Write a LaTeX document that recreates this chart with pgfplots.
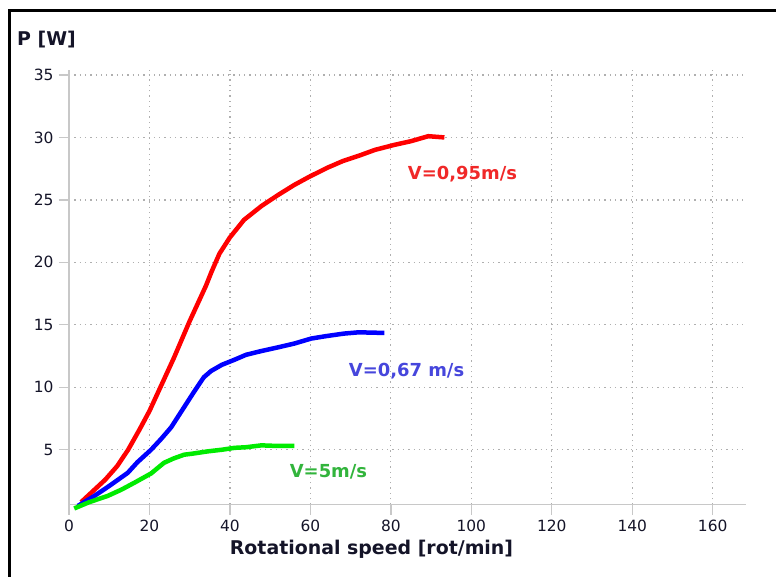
\documentclass[border=0pt]{standalone}
\usepackage{pgfplots}
\pgfplotsset{compat=1.18}
\usepackage{fontspec}
\setmainfont{DejaVu Sans}
\definecolor{txt}{RGB}{20,20,40}
\definecolor{axgray}{RGB}{200,200,200}
\definecolor{gridgray}{RGB}{175,175,175}
\definecolor{cred}{RGB}{255,0,0}
\definecolor{cblue}{RGB}{0,0,255}
\definecolor{cgreen}{RGB}{0,235,0}
\definecolor{lred}{RGB}{240,40,40}
\definecolor{lblue}{RGB}{70,70,220}
\definecolor{lgreen}{RGB}{50,180,60}
\begin{document}
\begin{tikzpicture}[x=1bp,y=1bp]
\useasboundingbox (0,0) rectangle (776,577);
\draw[black,line width=3bp] (9.7,0) -- (9.7,566.2) -- (776,566.2);
\node[anchor=west,font=\fontsize{19}{19}\selectfont\bfseries,text=txt,inner sep=0pt] at (17,537) {P [W]};
\begin{axis}[
  at={(69bp,72.3bp)}, anchor=south west,
  scale only axis, width=676.7bp, height=434.7bp,
  xmin=0, xmax=168.2, ymin=0.6, ymax=35.4,
  axis x line=bottom, axis y line=left,
  axis line style={-,axgray,line width=1.3bp},
  xtick={0,20,...,160}, ytick={5,10,...,35},
  tick align=outside, major tick length=10bp,
  tick style={axgray,line width=1.3bp},
  grid=major,
  major grid style={gridgray,line width=1.2bp,dash pattern=on 1.3bp off 4bp},
  ticklabel style={font=\fontsize{15.5}{15.5}\selectfont,text=txt},
  /pgf/number format/assume math mode=true,
  xticklabel style={yshift=-2bp},
  yticklabel style={xshift=-2bp},
  xlabel={Rotational speed [rot/min]},
  xlabel style={font=\fontsize{19}{19}\selectfont\bfseries,text=txt,
    at={(axis description cs:0.447,0)}, anchor=center, yshift=-44.3bp},
  clip=false,
]
\addplot[cred,line width=4.5bp,line join=round] coordinates {
(3,0.8) (6,1.7) (9,2.6) (12,3.7) (14.7,5) (17.5,6.6) (20,8.1) (22,9.5) (24,10.9) (26,12.3) (28,13.8) (30,15.3) (32,16.7) (34,18.1) (35.5,19.3) (37.4,20.7)
(40,22) (43.5,23.4) (47.8,24.5) (52,25.4) (56,26.2) (60,26.9) (64.4,27.6) (68,28.1) (72.6,28.6) (76,29.0) (80.8,29.4) (85,29.7) (89.3,30.1) (93.3,30.0)
};
\addplot[cblue,line width=4.5bp,line join=round] coordinates {
(2.2,0.5) (6.3,1.3) (10,2.1) (14.6,3.15) (17,4) (20.4,5.0) (23,5.9) (25.4,6.8) (28.6,8.4) (31,9.6) (33.5,10.8) (35.3,11.3) (38,11.8) (41.1,12.2) (44,12.6) (47.8,12.9) (52,13.2) (56,13.5) (60.2,13.9) (64,14.1) (68.4,14.3) (72,14.4) (78.4,14.35)
};
\addplot[cgreen,line width=4.5bp,line join=round] coordinates {
(1.3,0.3) (5,0.8) (9.6,1.3) (13,1.8) (16.2,2.35) (20.4,3.1) (23.6,3.95) (26,4.3) (28.6,4.6) (31,4.7) (34.5,4.87) (38,5.0) (41.1,5.15) (44,5.2) (47.8,5.35) (52,5.3) (56,5.3)
};
\node[font=\fontsize{18}{18}\selectfont\bfseries,text=lred] at (axis cs:97.8,27.05) {V=0,95m/s};
\node[font=\fontsize{18}{18}\selectfont\bfseries,text=lblue] at (axis cs:83.9,11.33) {V=0,67 m/s};
\node[font=\fontsize{18}{18}\selectfont\bfseries,text=lgreen] at (axis cs:64.5,3.2) {V=5m/s};
\end{axis}
\end{tikzpicture}
\end{document}
